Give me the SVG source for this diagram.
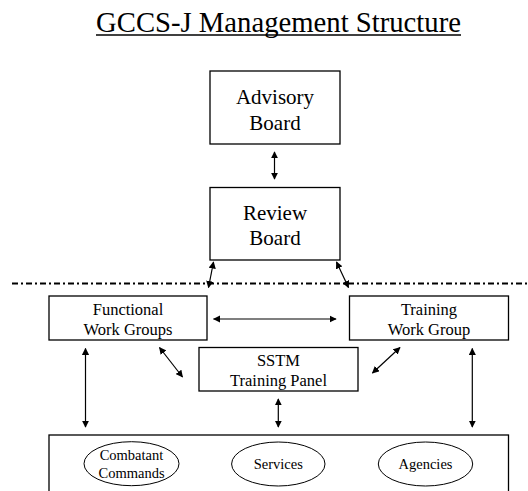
<svg xmlns="http://www.w3.org/2000/svg" width="528" height="491" viewBox="0 0 528 491">
  <style>
    .box { fill: #fff; stroke: #000; stroke-width: 1.3; }
    .oval { fill: #fff; stroke: #000; stroke-width: 1; }
    .t { font-family: "Liberation Serif", "Times New Roman", serif; fill: #000; text-anchor: middle; }
    .big { font-size: 21px; }
    .mid { font-size: 16.5px; }
    .small { font-size: 14.5px; }
    .link { stroke: #000; stroke-width: 1.2; fill: none; marker-start: url(#head); marker-end: url(#head); }
    .divider { stroke: #000; stroke-width: 2; stroke-dasharray: 6 3 2 3; fill: none; }
  </style>
  <defs>
    <marker id="head" viewBox="0 0 10 10" refX="9" refY="5" markerWidth="6" markerHeight="6" markerUnits="strokeWidth" orient="auto-start-reverse">
      <path d="M0,0 L10,5 L0,10 Z" fill="#000"/>
    </marker>
  </defs>

  <rect width="528" height="491" fill="#fff"/>

  <!-- Title -->
  <g id="title">
    <text class="t" x="278.5" y="31.5" font-size="28.7">GCCS-J Management Structure</text>
    <line x1="96" y1="35" x2="461" y2="35" stroke="#000" stroke-width="1.4"/>
  </g>

  <!-- Boundary between oversight and working levels -->
  <line class="divider" x1="12" y1="283.5" x2="528" y2="283.5"/>

  <g id="advisory-board">
    <rect class="box" x="210" y="71" width="130" height="73"/>
    <text class="t big" x="275" y="103.5">Advisory</text>
    <text class="t big" x="275" y="129.5">Board</text>
  </g>

  <g id="review-board">
    <rect class="box" x="210" y="187.5" width="130" height="72.5"/>
    <text class="t big" x="275" y="220">Review</text>
    <text class="t big" x="275" y="245">Board</text>
  </g>

  <g id="functional-work-groups">
    <rect class="box" x="49" y="296" width="158" height="44"/>
    <text class="t mid" x="128" y="315">Functional</text>
    <text class="t mid" x="128" y="335">Work Groups</text>
  </g>

  <g id="training-work-group">
    <rect class="box" x="349.5" y="296" width="159" height="44"/>
    <text class="t mid" x="429" y="315">Training</text>
    <text class="t mid" x="429" y="335">Work Group</text>
  </g>

  <g id="sstm-training-panel">
    <rect class="box" x="199" y="347.5" width="159" height="43.5"/>
    <text class="t mid" x="278.5" y="366">SSTM</text>
    <text class="t mid" x="278.5" y="386">Training Panel</text>
  </g>

  <g id="stakeholders">
    <rect class="box" x="49" y="435" width="459.5" height="70"/>
    <g id="combatant-commands">
      <ellipse class="oval" cx="131.5" cy="463.7" rx="47.5" ry="22"/>
      <text class="t small" x="131.5" y="460">Combatant</text>
      <text class="t small" x="131.5" y="478">Commands</text>
    </g>
    <g id="services">
      <ellipse class="oval" cx="278.3" cy="464" rx="46.7" ry="22"/>
      <text class="t small" x="278.3" y="468.5">Services</text>
    </g>
    <g id="agencies">
      <ellipse class="oval" cx="425.5" cy="464" rx="47.2" ry="22"/>
      <text class="t small" x="425.5" y="468.5">Agencies</text>
    </g>
  </g>

  <!-- Connectors -->
  <g id="connectors">
    <line class="link" x1="274.5" y1="152" x2="274.5" y2="179"/>
    <line class="link" x1="213.5" y1="262" x2="208.5" y2="287.5"/>
    <line class="link" x1="336.5" y1="262" x2="348.5" y2="287.5"/>
    <line class="link" x1="213.5" y1="319" x2="336" y2="319"/>
    <line class="link" x1="159.5" y1="347.5" x2="182.5" y2="377"/>
    <line class="link" x1="400" y1="347.5" x2="372.5" y2="373"/>
    <line class="link" x1="85.5" y1="348.5" x2="85.5" y2="427"/>
    <line class="link" x1="472.3" y1="348.5" x2="472.3" y2="427"/>
    <line class="link" x1="278.3" y1="399" x2="278.3" y2="427"/>
  </g>
</svg>
